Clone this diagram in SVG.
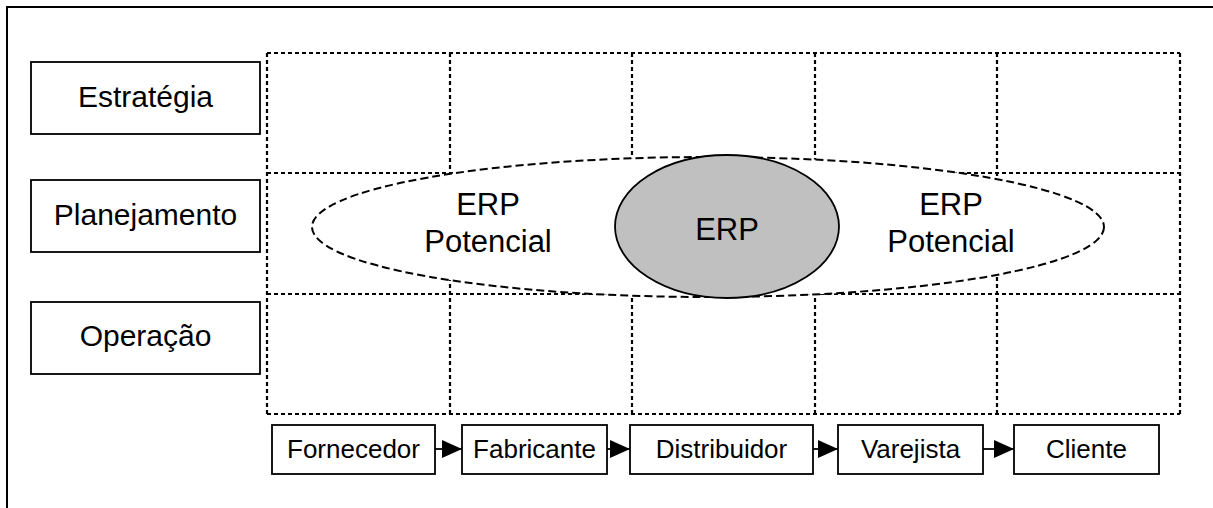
<svg xmlns="http://www.w3.org/2000/svg" width="1213" height="508" viewBox="0 0 1213 508">
  <style>
    .frame { fill: none; stroke: #000; stroke-width: 2; }
    .grid { fill: none; stroke: #000; stroke-width: 2.2; stroke-dasharray: 4 3; }
    .box { fill: #fff; stroke: #000; stroke-width: 1.8; }
    .scope { fill: #fff; stroke: #000; stroke-width: 2; stroke-dasharray: 8 4; }
    .core { fill: #c0c0c0; stroke: #000; stroke-width: 1.8; }
    .lbl { font-family: "Liberation Sans", Arial, sans-serif; font-size: 30px; fill: #000; text-anchor: middle; }
    .big { font-family: "Liberation Sans", Arial, sans-serif; font-size: 31px; fill: #000; text-anchor: middle; }
    .chain { font-family: "Liberation Sans", Arial, sans-serif; font-size: 26px; fill: #000; text-anchor: middle; }
    .link { stroke: #000; stroke-width: 1.8; fill: none; }
  </style>
  <defs>
    <marker id="arrow" viewBox="0 0 20 18" refX="20" refY="9" markerWidth="20" markerHeight="18" markerUnits="userSpaceOnUse" orient="auto">
      <path d="M0,0 L20,9 L0,18 Z" fill="#000"/>
    </marker>
  </defs>

  <!-- outer frame (top and left edges) -->
  <path class="frame" d="M7,508 V7 H1213"/>

  <!-- dashed level/stage grid -->
  <g id="grid">
    <path class="grid" d="M267,53 H1180 M267,173 H1180 M267,294 H1180 M267,414 H1180"/>
    <path class="grid" d="M267,53 V414 M450,53 V414 M632,53 V414 M815,53 V414 M997,53 V414 M1180,53 V414"/>
  </g>

  <!-- potential ERP scope -->
  <g id="erp-scope">
    <ellipse class="scope" cx="708" cy="227" rx="396" ry="70"/>
    <text class="big" x="488" y="215">ERP</text>
    <text class="big" x="488" y="252">Potencial</text>
    <text class="big" x="951" y="215">ERP</text>
    <text class="big" x="951" y="252">Potencial</text>
  </g>

  <!-- core ERP -->
  <g id="erp-core">
    <ellipse class="core" cx="727" cy="226.5" rx="112" ry="71.5"/>
    <text class="big" x="727" y="240">ERP</text>
  </g>

  <!-- management levels -->
  <g id="estrategia">
    <rect class="box" x="31" y="62" width="229" height="72"/>
    <text class="lbl" x="145.5" y="107">Estratégia</text>
  </g>
  <g id="planejamento">
    <rect class="box" x="31" y="180" width="229" height="72"/>
    <text class="lbl" x="145.5" y="225">Planejamento</text>
  </g>
  <g id="operacao">
    <rect class="box" x="31" y="302" width="229" height="72"/>
    <text class="lbl" x="145.5" y="346">Operação</text>
  </g>

  <!-- supply chain stages -->
  <g id="fornecedor">
    <rect class="box" x="272" y="425" width="163" height="49"/>
    <text class="chain" x="353.5" y="458">Fornecedor</text>
  </g>
  <g id="fabricante">
    <rect class="box" x="462" y="425" width="145" height="49"/>
    <text class="chain" x="534.5" y="458">Fabricante</text>
  </g>
  <g id="distribuidor">
    <rect class="box" x="630" y="425" width="183" height="49"/>
    <text class="chain" x="721.5" y="458">Distribuidor</text>
  </g>
  <g id="varejista">
    <rect class="box" x="838" y="425" width="145" height="49"/>
    <text class="chain" x="910.5" y="458">Varejista</text>
  </g>
  <g id="cliente">
    <rect class="box" x="1014" y="425" width="145" height="49"/>
    <text class="chain" x="1086.5" y="458">Cliente</text>
  </g>

  <!-- connectors -->
  <g id="connectors">
    <line class="link" x1="435" y1="449" x2="462" y2="449" marker-end="url(#arrow)"/>
    <line class="link" x1="607" y1="449" x2="630" y2="449" marker-end="url(#arrow)"/>
    <line class="link" x1="813" y1="449" x2="838" y2="449" marker-end="url(#arrow)"/>
    <line class="link" x1="983" y1="449" x2="1014" y2="449" marker-end="url(#arrow)"/>
  </g>
</svg>
